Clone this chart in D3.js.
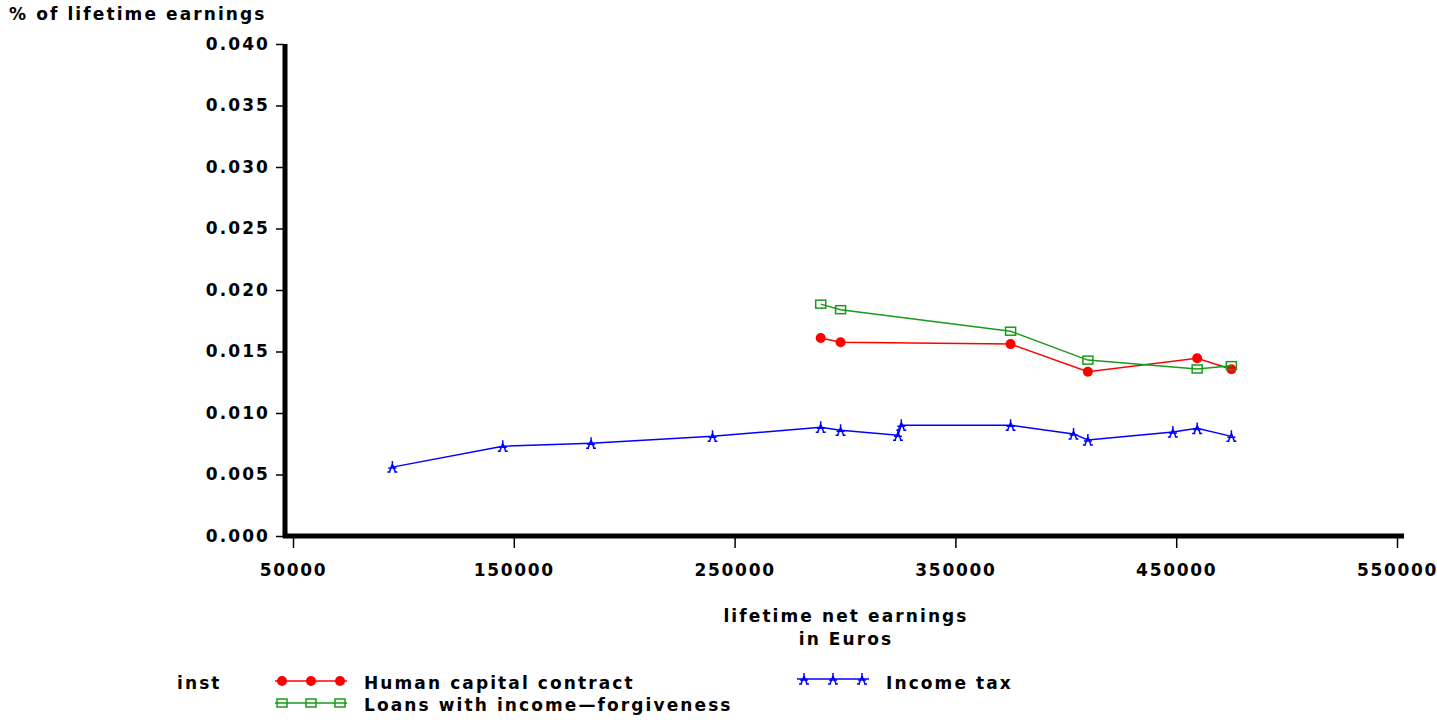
<!DOCTYPE html>
<html><head><meta charset="utf-8">
<script src="https://cdn.jsdelivr.net/npm/d3@7"></script>
<style>
body{margin:0;background:#fff;}
text{font-family:"DejaVu Sans",sans-serif;font-weight:bold;fill:#000;}
</style></head>
<body><svg id="c" width="1437" height="720"></svg>
<script>
const xTicks = [50000,150000,250000,350000,450000,550000];
const yTicks = [0,0.005,0.010,0.015,0.020,0.025,0.030,0.035,0.040];

const hccX = [289000,298000,375000,410000,459500,475000];
const hccY = [0.0161,0.01575,0.0156,0.01335,0.01445,0.01355];

const loanX = [289000,298000,375000,410000,459500,475000];
const loanY = [0.01885,0.0184,0.01665,0.0143,0.01358,0.01385];

const taxX = [95000,145000,185000,240000,289000,298000,324000,325500,375000,403500,410000,448500,459500,475000];
const taxY = [0.0056,0.0073,0.00755,0.0081,0.00885,0.0086,0.0082,0.0090,0.0090,0.0083,0.0078,0.00845,0.00875,0.0081];

const seriesNames = ["Human capital contract","Loans with income\u2014forgiveness","Income tax"];

const svg = d3.select("#c");
const x = d3.scaleLinear().domain([50000,550000]).range([293,1397]);
const y = d3.scaleLinear().domain([0,0.04]).range([536,44]);

const LS = "2.1px";
const FS = 17;
function label(t, px, py, anchor){
  return svg.append("text").attr("x",px).attr("y",py).attr("text-anchor",anchor||"start")
    .style("font-size",FS+"px").style("letter-spacing",LS).text(t);
}

// title
label("% of lifetime earnings", 9, 20);

// y axis
const yAxis = d3.axisLeft(y).tickValues(yTicks).tickFormat(d3.format(".3f")).tickSize(8).tickPadding(6);
const gy = svg.append("g").attr("transform","translate(284,0)").call(yAxis);
gy.select(".domain").remove();
gy.selectAll(".tick line").attr("stroke","#000").attr("stroke-width",1.5);
gy.selectAll(".tick text").style("font-size",FS+"px").style("letter-spacing",LS)
  .style("font-family","DejaVu Sans").style("font-weight","bold").attr("fill","#000");
svg.append("line").attr("x1",285).attr("x2",285).attr("y1",y(0.04)).attr("y2",538)
  .attr("stroke","#000").attr("stroke-width",5);

// x axis
const xAxis = d3.axisBottom(x).tickValues(xTicks).tickFormat(d3.format("d")).tickSize(10).tickPadding(16);
const gx = svg.append("g").attr("transform","translate(0,538)").call(xAxis);
gx.select(".domain").remove();
gx.selectAll(".tick line").attr("stroke","#000").attr("stroke-width",1.5);
gx.selectAll(".tick text").style("font-size",FS+"px").style("letter-spacing","1.7px")
  .style("font-family","DejaVu Sans").style("font-weight","bold").attr("fill","#000");
svg.append("line").attr("x1",283).attr("x2",1404).attr("y1",536).attr("y2",536)
  .attr("stroke","#000").attr("stroke-width",5);

label("lifetime net earnings", 846, 622, "middle");
label("in Euros", 846, 645, "middle");

// markers
const starPath = "M0,-6L0,-3M0,-3L-3,5M0,-3L3,5M-4,1L4,1M-5,5L-2,5M2,5L5,5";
function marker(g, type, color, cx, cy){
  if(type==="circle"){
    g.append("circle").attr("cx",cx).attr("cy",cy).attr("r",5).attr("fill",color);
  } else if(type==="square"){
    g.append("rect").attr("x",cx-5).attr("y",cy-4).attr("width",10).attr("height",8)
      .attr("fill","none").attr("stroke",color).attr("stroke-width",1.5);
  } else {
    g.append("path").attr("d",starPath).attr("transform",`translate(${cx},${cy})`)
      .attr("fill","none").attr("stroke",color).attr("stroke-width",1.5);
  }
}

const series = [
  {xs:hccX, ys:hccY, color:"#ff0000", type:"circle"},
  {xs:loanX, ys:loanY, color:"#1a9a1a", type:"square"},
  {xs:taxX, ys:taxY, color:"#0000ff", type:"star"}
];
const line = d3.line().x(d=>x(d[0])).y(d=>y(d[1]));
series.forEach(s=>{
  const pts = s.xs.map((v,i)=>[v,s.ys[i]]);
  svg.append("path").attr("d",line(pts)).attr("fill","none").attr("stroke",s.color).attr("stroke-width",1.5);
  const g = svg.append("g");
  pts.forEach(p=>marker(g, s.type, s.color, x(p[0]), y(p[1])));
});

// legend
label("inst", 177, 689);
const leg = [
  {x0:275, x1:347, ly:681, tx:364, ty:689, s:series[0], name:seriesNames[0]},
  {x0:275, x1:347, ly:703, tx:364, ty:711, s:series[1], name:seriesNames[1]},
  {x0:797, x1:869, ly:679, tx:886, ty:689, s:series[2], name:seriesNames[2]}
];
leg.forEach(l=>{
  svg.append("line").attr("x1",l.x0).attr("x2",l.x1).attr("y1",l.ly).attr("y2",l.ly)
    .attr("stroke",l.s.color).attr("stroke-width",1.5);
  const g = svg.append("g");
  [0,1,2].forEach(k=>marker(g, l.s.type, l.s.color, l.x0+7+k*29, l.ly));
  label(l.name, l.tx, l.ty);
});
</script></body></html>
